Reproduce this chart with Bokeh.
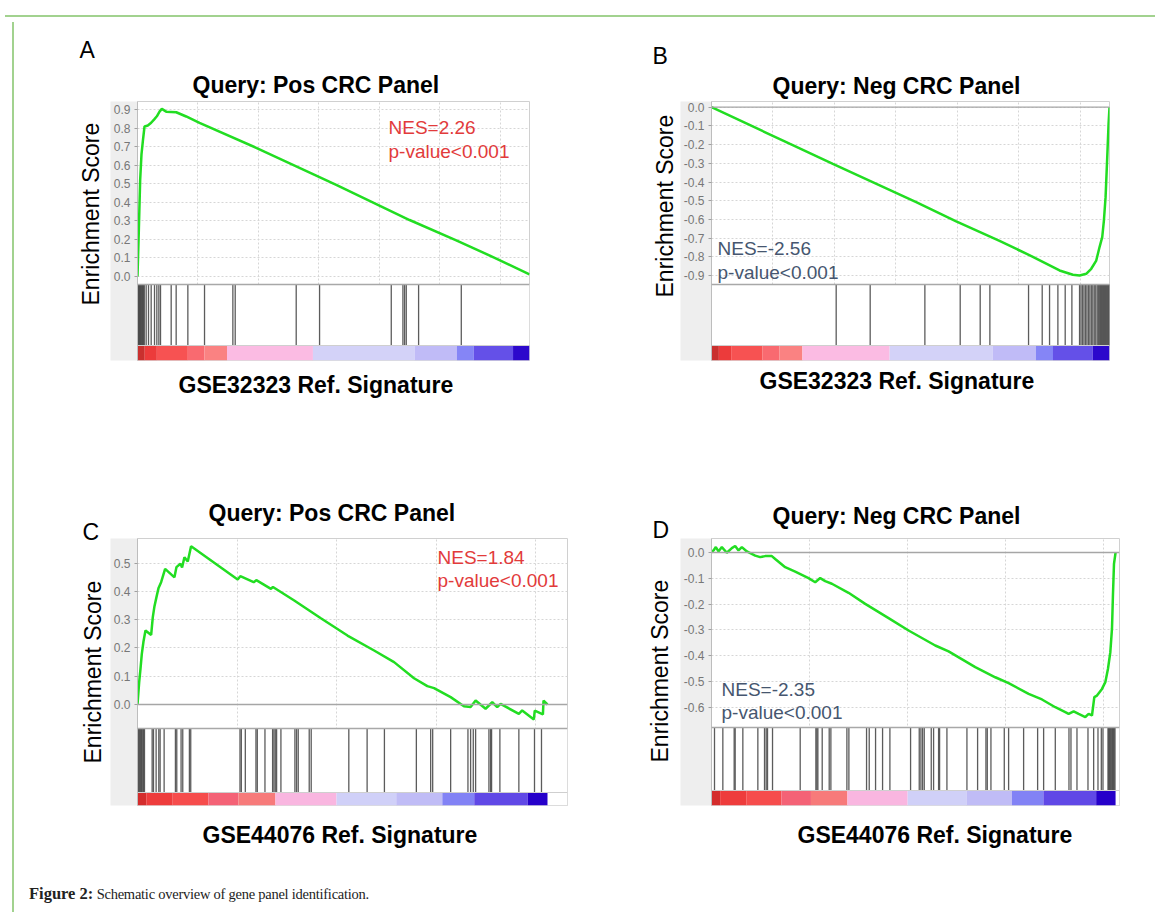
from bokeh.plotting import figure
from bokeh.models import (Span, FixedTicker, SingleIntervalTicker, Grid, Title,
                          PrintfTickFormatter, Range1d, Div)
from bokeh.layouts import column, row
from bokeh.embed import file_html
from bokeh.resources import INLINE

# ------------------------------------------------------------------ data
# Panel A  (Query: Pos CRC Panel vs GSE32323)
a_rank = [0, 55, 110, 165, 220, 290, 427, 565, 700, 800, 910, 1006, 1185, 1600,
          2012, 2563, 4906, 8213, 11244, 13173, 14827, 16200]
a_es = [0.0, 0.25, 0.52, 0.66, 0.73, 0.81, 0.815, 0.83, 0.85, 0.865, 0.89, 0.905,
        0.89, 0.887, 0.864, 0.83, 0.695, 0.495, 0.305, 0.195, 0.097, 0.011]
a_hits = [0, 15, 30, 50, 70, 90, 110, 130, 150, 175, 200, 225, 250, 280, 358, 455,
          565, 703, 799, 882, 951, 1392, 1598, 2081, 2770, 3941, 4038, 6559, 7524,
          10487, 10969, 11038, 11107, 11617, 13381]

# Panel B  (Query: Neg CRC Panel vs GSE32323)
b_rank = [0, 3175, 4940, 8332, 9960, 11724, 13081, 14167, 14710, 14981, 15253, 15456,
          15660, 15795, 15904, 15972, 16040, 16108, 16162, 16200]
b_es = [0.0, -0.195, -0.303, -0.508, -0.61, -0.715, -0.80, -0.873, -0.896, -0.90,
        -0.891, -0.864, -0.82, -0.748, -0.695, -0.606, -0.481, -0.267, -0.089, 0.0]
b_hits = [5075, 6459, 8685, 10123, 10937, 11331, 12905, 13461, 13760, 14099, 14397,
          14669, 14981, 15040, 15100, 15160, 15220, 15280, 15340, 15400, 15460, 15520,
          15580, 15640, 15700, 15750, 15800, 15840, 15880, 15920, 15960, 16000, 16040,
          16080, 16120, 16160, 16195]

# Panel C  (Query: Pos CRC Panel vs GSE44076)
c_rank = [0, 84, 150, 217, 301, 401, 686, 769, 853, 953, 1053, 1187, 1388, 1856, 1956,
          2157, 2240, 2358, 2525, 2692, 5033, 5166, 5835, 5969, 6705, 6805, 7875, 9213,
          10550, 11888, 12891, 13894, 14563, 14900, 15734, 16402, 16737, 16988, 17489,
          17824, 18074, 18242, 19161, 19328, 19914, 19960, 20370, 20400, 20600]
c_es = [0.0, 0.079, 0.126, 0.179, 0.223, 0.262, 0.246, 0.309, 0.348, 0.380, 0.411,
        0.433, 0.480, 0.450, 0.486, 0.498, 0.485, 0.521, 0.506, 0.560, 0.442, 0.454,
        0.433, 0.440, 0.409, 0.416, 0.368, 0.305, 0.244, 0.191, 0.150, 0.093, 0.065,
        0.058, 0.026, -0.006, -0.009, 0.014, -0.015, 0.008, -0.009, 0.002, -0.033,
        -0.021, -0.053, -0.022, -0.035, 0.014, 0.0]
c_hits = [20, 60, 100, 150, 190, 217, 268, 300, 351, 736, 803, 936, 1070, 1137, 1338,
          1906, 1973, 2190, 2274, 2608, 2675, 5150, 5217, 5417, 5952, 6019, 6404, 6788,
          6855, 6922, 6989, 7206, 7909, 7992, 8076, 8628, 8728, 10617, 11537, 12406,
          14011, 14730, 14831, 15734, 16603, 16737, 16871, 16988, 17657, 17741, 17791,
          18208, 19161, 19947, 20298]

# Panel D  (Query: Neg CRC Panel vs GSE44076)
d_rank = [0, 102, 221, 357, 527, 782, 1037, 1207, 1377, 1547, 1802, 2227, 2482, 2737,
          3077, 3247, 3757, 4267, 4947, 5287, 5542, 5797, 6137, 6987, 7837, 9027, 10047,
          11407, 12087, 13447, 14467, 15147, 16167, 16847, 17527, 18037, 18207, 18462,
          18717, 19057, 19227, 19397, 19516, 19652, 19907, 20077, 20213, 20332, 20417,
          20468, 20519, 20600]
d_es = [0.0, 0.008, 0.021, 0.004, 0.021, -0.001, 0.017, 0.025, 0.008, 0.021, 0.004,
        -0.012, -0.018, -0.014, -0.014, -0.025, -0.057, -0.074, -0.099, -0.115, -0.099,
        -0.111, -0.121, -0.156, -0.199, -0.254, -0.302, -0.36, -0.383, -0.444, -0.483,
        -0.506, -0.547, -0.569, -0.599, -0.618, -0.625, -0.615, -0.625, -0.637, -0.625,
        -0.631, -0.56, -0.554, -0.528, -0.502, -0.45, -0.386, -0.295, -0.16, -0.044, 0.0]
d_hits = [153, 578, 1156, 1207, 1598, 2363, 2703, 2788, 2856, 3111, 4522, 5321, 5372,
          5423, 5644, 6001, 6086, 6902, 7004, 7905, 8041, 8364, 8721, 9095, 10149, 10591,
          10676, 10761, 10846, 11203, 11322, 11577, 11628, 12002, 13022, 13566, 13991,
          14059, 14246, 14926, 15147, 15912, 16626, 16932, 17527, 18224, 18326, 18632,
          19193, 19482, 19703, 19873, 19958, 20213, 20250, 20290, 20330, 20370, 20410,
          20450, 20490, 20530, 20570]

# ranked-list colour bars (segment edges in rank units, and colours)
gse32323_edges = [0, 300, 800, 2080, 2770, 3700, 7250, 11450, 13200, 13900, 15520, 16200]
gse32323_colors = ["#c9302e", "#ec3b3b", "#f75252", "#f96a70", "#fa8282", "#fbbbe3",
                   "#d3d2f8", "#c0bbf7", "#8585f6", "#6450e8", "#2c08cc"]
gse44076_edges = [0, 440, 1770, 3560, 5070, 6930, 10000, 13000, 15316, 16920, 19610, 20600]
gse44076_colors = ["#d42c2c", "#ee3c3c", "#f64c4c", "#f46276", "#f77a7a", "#f9b6e0",
                   "#d0d0f8", "#c0bcf6", "#8282f5", "#6048e6", "#2600ca"]

a_ticks = [0.0, 0.1, 0.2, 0.3, 0.4, 0.5, 0.6, 0.7, 0.8, 0.9]
b_ticks = [0.0, -0.1, -0.2, -0.3, -0.4, -0.5, -0.6, -0.7, -0.8, -0.9]
c_ticks = [0.0, 0.1, 0.2, 0.3, 0.4, 0.5]
d_ticks = [0.0, -0.1, -0.2, -0.3, -0.4, -0.5, -0.6]

letters = ["A", "B", "C", "D"]
titles = ["Query: Pos CRC Panel", "Query: Neg CRC Panel",
          "Query: Pos CRC Panel", "Query: Neg CRC Panel"]
signatures = ["GSE32323 Ref. Signature", "GSE32323 Ref. Signature",
              "GSE44076 Ref. Signature", "GSE44076 Ref. Signature"]
nes_text = ["NES=2.26", "NES=-2.56", "NES=1.84", "NES=-2.35"]
p_text = ["p-value<0.001", "p-value<0.001", "p-value<0.001", "p-value<0.001"]
ylabel = "Enrichment Score"
caption_bold = "Figure 2:"
caption_rest = "Schematic overview of gene panel identification."

# ------------------------------------------------------------------ styling / layout
FONT = "Liberation Sans"
RED = "#e23b3b"
SLATE = "#46566f"
GREEN = "#22dd22"
FRAME_GREEN = "#a2d28f"

# geometry in page pixels: canvas (x, y, w, h), frame (left, top, w, h),
# y pixel of ES=0, pixels per ES unit, separator / colour-bar-top pixel rows.
# Text placement: (offset, standoff) for titles, in pixels.
# letter_near: the panel letter sits next to the frame (C, D) or above the title (A, B)
GEOM = [
    dict(canvas=(21, 17, 579, 423), frame=(138, 101, 392, 259), zero=276.0, ppu=185.2,
         sep=284, cbtop=345, xmax=16200, xstep=2500, zline=False, letter_near=False,
         letter=(-58, 6), title=(55, 8), ylab=(55, 14), sig=(41, 22),
         nes=(389, 127, 151), nes_color=RED),
    dict(canvas=(600, 17, 560, 423), frame=(712, 101, 398, 259), zero=106.7, ppu=187.0,
         sep=284, cbtop=345, xmax=16200, xstep=2500, zline=True, letter_near=False,
         letter=(-59, -3), title=(61, 6), ylab=(63, 6), sig=(48, 15),
         nes=(718, 248, 272), nes_color=SLATE),
    dict(canvas=(21, 440, 579, 425), frame=(138, 538, 430, 267), zero=704.0, ppu=282.6,
         sep=728, cbtop=792, xmax=21605, xstep=5000, zline=True, letter_near=True,
         letter=(-55, -12), title=(71, -7), ylab=(42, 10), sig=(65, 32),
         nes=(438, 557, 580), nes_color=RED),
    dict(canvas=(600, 440, 560, 425), frame=(712, 538, 408, 267), zero=552.0, ppu=258.3,
         sep=727, cbtop=790, xmax=20800, xstep=5000, zline=True, letter_near=True,
         letter=(-59, -9), title=(61, -19), ylab=(43, 15), sig=(86, 32),
         nes=(722, 689, 712), nes_color=SLATE),
]

SERIES = [
    (a_rank, a_es, a_hits, a_ticks, gse32323_edges, gse32323_colors),
    (b_rank, b_es, b_hits, b_ticks, gse32323_edges, gse32323_colors),
    (c_rank, c_es, c_hits, c_ticks, gse44076_edges, gse44076_colors),
    (d_rank, d_es, d_hits, d_ticks, gse44076_edges, gse44076_colors),
]


def style_title(t, text, size, bold, offset, standoff, valign, color="black"):
    t.text = text
    t.text_font = FONT
    t.text_font_size = f"{size}px"
    t.text_font_style = "bold" if bold else "normal"
    t.text_color = color
    t.align = "left"
    t.offset = offset
    t.standoff = standoff
    t.vertical_align = valign
    return t


def make_panel(i):
    g = GEOM[i]
    rank, es, hits, ticks, edges, colors = SERIES[i]
    ox, oy, W, H = g["canvas"]
    FL, FT, FW, FH = g["frame"]
    zero, ppu, xmax = g["zero"], g["ppu"], g["xmax"]
    y_top = (zero - FT) / ppu
    y_bot = (zero - (FT + FH)) / ppu
    sep = (zero - g["sep"]) / ppu
    cbt = (zero - g["cbtop"]) / ppu

    p = figure(frame_width=FW, frame_height=FH,
               min_border_left=FL - ox, min_border_top=FT - oy,
               min_border_right=ox + W - (FL + FW), min_border_bottom=oy + H - (FT + FH),
               x_range=Range1d(0, xmax), y_range=Range1d(y_bot, y_top),
               x_axis_location=None,
               output_backend="svg", toolbar_location=None, tools="")
    p.background_fill_color = "white"
    p.border_fill_color = "white"
    p.outline_line_color = "#d0d0d0"
    p.outline_line_width = 1

    # vertical dotted grid (own ticker, no x axis)
    p.center = [r for r in p.center if not (isinstance(r, Grid) and r.dimension == 0)]
    p.add_layout(Grid(dimension=0, ticker=SingleIntervalTicker(interval=g["xstep"]),
                      grid_line_color="#d6d6d6", grid_line_dash="2 2"))

    p.yaxis.ticker = FixedTicker(ticks=ticks)
    p.yaxis.formatter = PrintfTickFormatter(format="%.1f")
    p.yaxis.major_label_text_font = FONT
    p.yaxis.major_label_text_font_size = "12px"
    p.yaxis.major_label_text_color = "#777777"
    p.yaxis.major_label_standoff = 4
    p.yaxis.major_tick_out = 3
    p.yaxis.major_tick_in = 0
    p.yaxis.major_tick_line_color = "#a0a0a0"
    p.yaxis.minor_tick_line_color = None
    p.yaxis.axis_line_color = "#bdbdbd"
    try:
        p.yaxis.background_fill_color = "#eeeeee"
    except Exception:
        pass
    p.ygrid.ticker = FixedTicker(ticks=ticks)
    p.ygrid.grid_line_color = "#d6d6d6"
    p.ygrid.grid_line_dash = "2 2"

    # white hit-strip area (covers grid), hits, colour bar
    p.quad(left=0, right=xmax, bottom=y_bot, top=sep, fill_color="white", line_color=None)
    p.segment(x0=hits, y0=[sep] * len(hits), x1=hits, y1=[cbt] * len(hits),
              line_color="#4a4a4a", line_width=1.3, line_alpha=0.9)
    p.quad(left=edges[:-1], right=edges[1:], bottom=y_bot, top=cbt,
           fill_color=colors, line_color=None)
    p.add_layout(Span(location=cbt, dimension="width", line_color="#cfcfcf", line_width=1))
    p.add_layout(Span(location=sep, dimension="width", line_color="#a8a8a8", line_width=1.3))
    if g["zline"]:
        p.add_layout(Span(location=0, dimension="width", line_color="#a6a6a6", line_width=1.3))

    p.line(rank, es, line_color=GREEN, line_width=2.5)

    # NES / p-value text inside the frame
    nx, ny1, ny2 = g["nes"]
    xd = (nx - FL) / FW * xmax
    p.text(x=[xd, xd], y=[(zero - ny1) / ppu, (zero - ny2) / ppu],
           text=[nes_text[i], p_text[i]], text_font={"value": FONT},
           text_font_size="19px", text_color=g["nes_color"],
           text_align="left", text_baseline="middle")

    # titles around the frame (p.title is always the outermost one above)
    lo, ls = g["letter"]
    to, ts = g["title"]
    if g["letter_near"]:
        p.add_layout(style_title(Title(), letters[i], 23, False, lo, ls, "bottom"), "above")
        style_title(p.title, titles[i], 23, True, to, ts, "bottom")
    else:
        p.add_layout(style_title(Title(), titles[i], 23, True, to, ts, "bottom"), "above")
        style_title(p.title, letters[i], 23, False, lo, ls, "bottom")
    yo, ys = g["ylab"]
    p.add_layout(style_title(Title(), ylabel, 23, False, yo, ys, "bottom"), "left")
    so, ss = g["sig"]
    p.add_layout(style_title(Title(), signatures[i], 23, True, so, ss, "top"), "below")
    return p


panels = [make_panel(i) for i in range(4)]

cap = Div(text=('<div style="margin-top:12px;margin-left:4px;font-family:\'Liberation Serif\',serif;'
                'font-size:14.5px;letter-spacing:-0.25px;color:#222;white-space:nowrap">'
                f'<b style="font-size:16.5px;letter-spacing:0">{caption_bold}</b> {caption_rest}</div>'),
          width=1139, height=42)

content = column(row(panels[0], panels[1]), row(panels[2], panels[3]), cap)

# green frame of the figure box: a top rule and a left rule
top_rule = Div(text=(f'<div style="width:1150px;height:5px;'
                     f'border-bottom:2px solid {FRAME_GREEN}"></div>'),
               width=1150, height=7)
left_rule = Div(text=(f'<div style="display:block;margin-left:7px;width:0px;height:890px;'
                      f'border-left:2px solid {FRAME_GREEN}"></div>'),
                width=10, height=890)
page = column(top_rule, row(left_rule, content))

open("out.html", "w").write(file_html(page, INLINE))
